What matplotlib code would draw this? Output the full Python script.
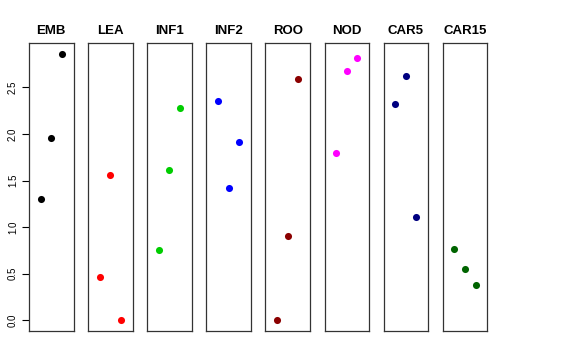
import matplotlib
matplotlib.use("Agg")
import matplotlib.pyplot as plt

plt.rcParams['font.family'] = ['Liberation Sans', 'DejaVu Sans']

panels = ["EMB", "LEA", "INF1", "INF2", "ROO", "NOD", "CAR5", "CAR15"]
colors = ["#000000", "#FF0000", "#00CD00", "#0000FF", "#8B0000", "#FF00FF", "#000080", "#006400"]
positions = [1, 2, 3]
values = {
    "EMB":   [1.30, 1.96, 2.86],
    "LEA":   [0.47, 1.56, 0.00],
    "INF1":  [0.75, 1.61, 2.28],
    "INF2":  [2.36, 1.42, 1.91],
    "ROO":   [0.00, 0.91, 2.59],
    "NOD":   [1.80, 2.68, 2.82],
    "CAR5":  [2.32, 2.62, 1.11],
    "CAR15": [0.77, 0.55, 0.38],
}
yticks = [0.0, 0.5, 1.0, 1.5, 2.0, 2.5]
yticklabels = ["0.0", "0.5", "1.0", "1.5", "2.0", "2.5"]

W, H = 576, 360
fig = plt.figure(figsize=(W / 100, H / 100), dpi=100)

allv = [v for k in panels for v in values[k]]
vmin, vmax = min(allv), max(allv)
r = vmax - vmin
ylim = (vmin - 0.04 * r, vmax + 0.04 * r)

left0 = 29.0
pw = 44.5
step = 59.1
top = 43.3
bottom = 331.0

for i, name in enumerate(panels):
    x0 = left0 + i * step
    ax = fig.add_axes([x0 / W, 1 - bottom / H, pw / W, (bottom - top) / H])
    ax.scatter(positions, values[name], s=26, color=colors[i], linewidths=0, zorder=3)
    ax.set_xlim(-0.1, 4.1)
    ax.set_ylim(*ylim)
    ax.set_xticks([])
    ax.set_title(name, fontsize=9.5, fontweight='bold', pad=6.5)
    for sp in ax.spines.values():
        sp.set_linewidth(0.9)
        sp.set_color('#333333')
    if i == 0:
        ax.set_yticks(yticks)
        ax.set_yticklabels(yticklabels, rotation=90, va='center', fontsize=7)
        ax.tick_params(axis='y', length=5, width=0.8, pad=3)
    else:
        ax.set_yticks([])

fig.savefig("out.png", dpi=100)
